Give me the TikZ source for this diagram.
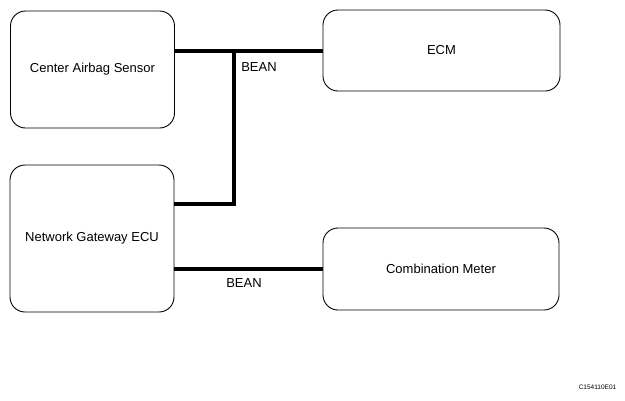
\documentclass[tikz,border=0pt]{standalone}
\usepackage{fontspec}
\setmainfont{Liberation Sans}

\begin{document}
\begin{tikzpicture}[x=1pt, y=-1pt,
		unit/.style={draw, rounded corners=15pt, line width=0.9pt, align=center, inner sep=0pt, font=\fontsize{13}{15}\selectfont},
		bus/.style={line width=4pt},
		lbl/.style={font=\fontsize{13}{15}\selectfont}]
			\useasboundingbox (0,0) rectangle (625,400);
			
			% Define nodes
			\node (sensor) at (92.5,69.5) [unit, minimum width=164pt, minimum height=117pt] {Center Airbag Sensor};
			\node (ecm) at (441.5,50.5) [unit, minimum width=237pt, minimum height=81pt] {ECM};
			\node (gw) at (92,238.5) [unit, minimum width=164pt, minimum height=147pt] {Network Gateway ECU};
			\node (meter) at (441,269) [unit, minimum width=236pt, minimum height=82pt] {Combination Meter};
			
			\coordinate (jt) at (234,50.5);
			\coordinate (jb) at (234,204);
			
			% Draw edges
			\draw[bus] (ecm.west) -- (ecm.west -| sensor.east);
			\draw[bus] (jt) -- (jb) -- (jb -| gw.east);
			\draw[bus] (meter.west) -- (meter.west -| gw.east);
			
			% Add labels
			\node (bean1) at (259,67) [lbl] {BEAN};
			\node (bean2) at (244,283) [lbl] {BEAN};
			
			\node (code) at (597.5,387) [font=\fontsize{6.5}{8}\selectfont] {C154110E01};
		\end{tikzpicture}
\end{document}
